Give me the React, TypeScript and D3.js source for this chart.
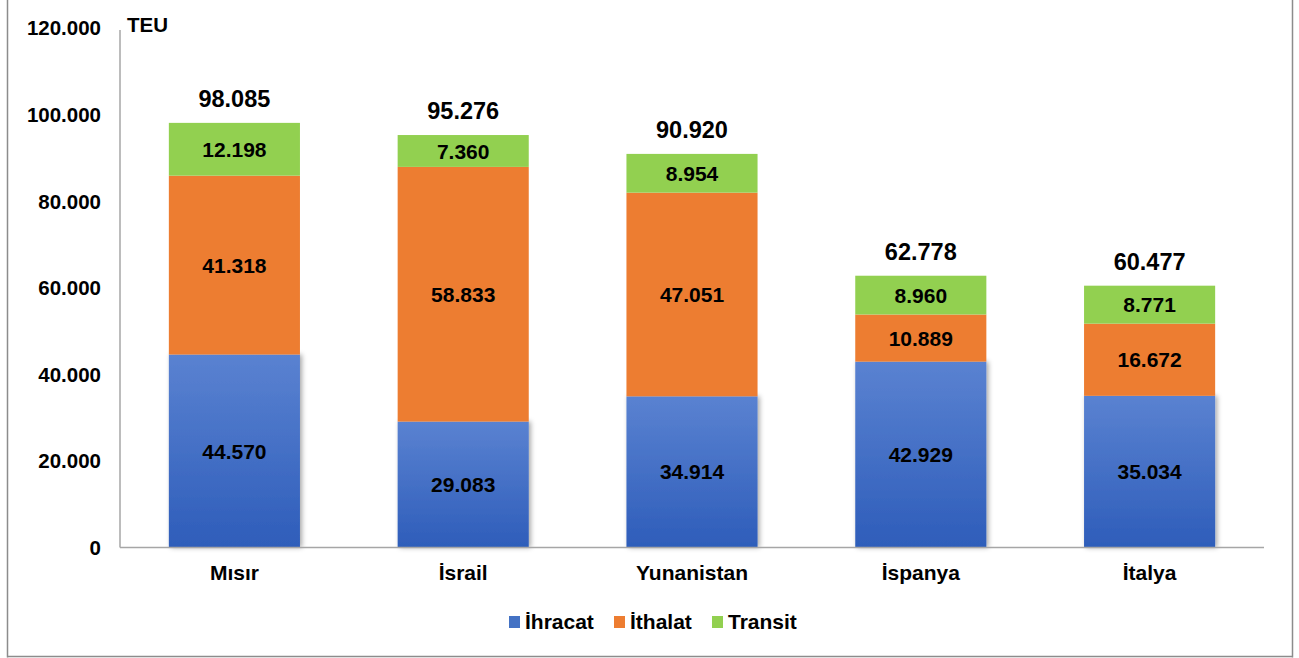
import React from "react";
import * as d3 from "d3";

const categories = ["Mısır", "İsrail", "Yunanistan", "İspanya", "İtalya"];
const ihracat = [44570, 29083, 34914, 42929, 35034];
const ithalat = [41318, 58833, 47051, 10889, 16672];
const transit = [12198, 7360, 8954, 8960, 8771];
const totals = [98085, 95276, 90920, 62778, 60477];
const yTicks = [0, 20000, 40000, 60000, 80000, 100000, 120000];
const seriesNames = ["İhracat", "İthalat", "Transit"];

const W = 1299;
const H = 658;
const FONT = "'Liberation Sans', Arial, sans-serif";

export default function App() {
  const locale = d3.formatLocale({ decimal: ",", thousands: ".", grouping: [3], currency: ["", ""] });
  const fmt = locale.format(",d");

  const x = d3.scaleBand<string>().domain(categories).range([120, 1264]).paddingInner(0.427).paddingOuter(0.2135);
  const y = d3.scaleLinear().domain([0, 120000]).range([547.5, 28]);

  const rows = categories.map((c, i) => ({ cat: c, ihracat: ihracat[i], ithalat: ithalat[i], transit: transit[i] }));
  const stack = d3.stack<any>().keys(["ihracat", "ithalat", "transit"])(rows);
  const fills = ["url(#blueGrad)", "#ED7D31", "#92D050"];
  const legendColors = ["#4472C4", "#ED7D31", "#92D050"];

  const legendItems = [
    { x: 509, label: seriesNames[0] },
    { x: 614, label: seriesNames[1] },
    { x: 712, label: seriesNames[2] },
  ];

  return (
    <svg width={W} height={H} style={{ position: "absolute", left: 0, top: 0, background: "#fff" }} fontFamily={FONT}>
      <defs>
        <linearGradient id="blueGrad" x1="0" y1="0" x2="0" y2="1">
          <stop offset="0" stopColor="#5A82D1" />
          <stop offset="1" stopColor="#2E5DBA" />
        </linearGradient>
        <filter id="shadow" x="-10%" y="-10%" width="130%" height="120%">
          <feDropShadow dx="2" dy="0" stdDeviation="2.5" floodColor="#000" floodOpacity="0.35" />
        </filter>
      </defs>
      {/* outer border */}
      <line x1={7.5} y1={0} x2={7.5} y2={657.5} stroke="#8c8c8c" strokeWidth={1.5} />
      <line x1={1292.5} y1={0} x2={1292.5} y2={657.5} stroke="#8c8c8c" strokeWidth={1.5} />
      <line x1={7.5} y1={656.5} x2={1292.5} y2={656.5} stroke="#8c8c8c" strokeWidth={1.5} />

      {/* axes */}
      <line x1={120} y1={30} x2={120} y2={y(0)} stroke="#a6a6a6" strokeWidth={1.5} />

      {yTicks.map((t) => (
        <text key={t} x={101} y={y(t)} dy="0.36em" textAnchor="end" fontSize={20.5} fontWeight="bold" fill="#000">
          {fmt(t)}
        </text>
      ))}
      <text x={127} y={32} fontSize={20.5} fontWeight="bold" fill="#000">TEU</text>

      {stack.map((s, si) =>
        s.map((d: any, i: number) => {
          const x0 = x(categories[i])!;
          const y0 = y(d[1]);
          const h = y(d[0]) - y(d[1]);
          return (
            <g key={si + "-" + i}>
              <rect x={x0} y={y0} width={x.bandwidth()} height={h} fill={fills[si]} filter={si === 0 ? "url(#shadow)" : undefined} />
              <text x={x0 + x.bandwidth() / 2} y={y0 + h / 2} dy="0.36em" textAnchor="middle" fontSize={21} fontWeight="bold" fill="#000">
                {fmt(d[1] - d[0])}
              </text>
            </g>
          );
        })
      )}
      <line x1={120} y1={y(0)} x2={1264} y2={y(0)} stroke="#a6a6a6" strokeWidth={1.5} />

      {totals.map((t, i) => (
        <text key={"t" + i} x={x(categories[i])! + x.bandwidth() / 2} y={y(t) - 16} textAnchor="middle" fontSize={23.5} fontWeight="bold" fill="#000">
          {fmt(t)}
        </text>
      ))}

      {categories.map((c) => (
        <text key={c} x={x(c)! + x.bandwidth() / 2} y={580} textAnchor="middle" fontSize={21} fontWeight="bold" fill="#000">
          {c}
        </text>
      ))}

      {legendItems.map((l, i) => (
        <g key={l.label}>
          <rect x={l.x} y={616} width={11} height={12} fill={legendColors[i]} />
          <text x={l.x + 16} y={629} fontSize={21} fontWeight="bold" fill="#000">{l.label}</text>
        </g>
      ))}
    </svg>
  );
}
